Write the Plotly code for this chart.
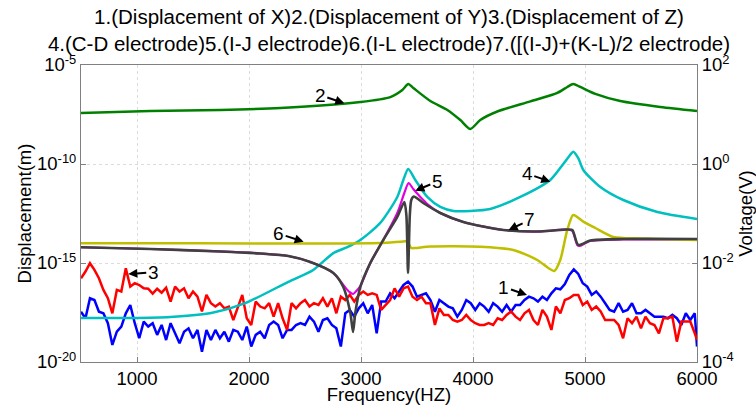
import numpy as np
import plotly.graph_objects as go

# ---------------- data ----------------
# Noisy displacement curves sampled every 40 Hz (log10 of displacement, m)
noise_freq = list(range(500, 6000, 40)) + [6000]

disp_x_log10 = [  # curve 1, blue
    -17.46, -17.79, -16.78, -16.87, -17.46, -17.54, -18.04, -19.14, -18.47, -18.21,
    -17.54, -17.12, -18.04, -18.80, -17.96, -18.21, -18.04, -18.63, -18.13, -18.89,
    -18.04, -18.55, -19.05, -18.47, -18.30, -18.80, -18.38, -19.48, -18.38, -18.89,
    -18.38, -18.80, -18.47, -18.97, -18.38, -18.47, -18.89, -18.21, -19.22, -18.63,
    -18.47, -18.80, -18.13, -17.96, -18.13, -18.80, -18.38,
    -18.38, -18.13, -18.04, -18.13, -17.71, -17.96, -18.47, -17.88, -17.79, -18.13,
    -18.30, -19.22, -17.54, -17.37, -17.71, -17.29, -17.03, -17.54, -17.12, -18.55,
    -16.95, -16.95, -16.53, -16.78, -16.44, -16.11, -15.94, -16.19, -16.70, -16.61,
    -16.53, -16.87, -17.46, -16.87, -17.03, -17.20, -17.29, -17.71, -17.37, -16.87,
    -17.03, -17.37, -17.03, -17.20, -17.46,
    -17.03, -17.20, -17.46, -17.12, -17.46, -17.12, -17.12, -16.87, -16.70, -16.78,
    -16.95, -16.70, -16.87, -16.53, -16.28, -16.33, -16.06, -15.60, -15.32, -15.55,
    -16.02, -16.19, -16.61, -16.44, -16.70, -17.03, -17.37, -17.46, -17.03, -17.46,
    -17.37, -17.03, -17.54, -17.54, -17.37, -17.54, -17.71, -17.71, -17.71, -17.79,
    -17.62, -17.79, -18.13, -17.54, -17.88, -17.54, -19.22,
]

disp_z_log10 = [  # curve 3, red
    -15.77, -15.43, -15.01, -15.35, -15.77, -16.36, -16.78, -17.54, -16.36, -16.44,
    -15.27, -16.19, -16.02, -16.11, -16.28, -16.30, -16.55, -16.30, -16.50, -16.25,
    -16.95, -16.19, -16.44, -16.28, -16.78, -16.44, -16.70, -17.45, -16.61, -17.03,
    -17.20, -17.03, -17.29, -17.20, -17.88, -17.29, -16.61, -17.79, -18.13, -16.95,
    -17.20, -17.29, -17.03, -17.71, -17.03, -17.79, -18.38,
    -17.03, -17.29, -17.03, -16.87, -17.20, -17.03, -17.12, -16.78, -17.20, -16.78,
    -17.54, -16.70, -16.87, -16.61, -16.95, -16.61, -16.44, -16.61, -16.53, -16.61,
    -17.37, -17.12, -16.87, -16.28, -16.70, -16.28, -16.19, -16.70, -16.87, -16.70,
    -17.03, -17.03, -18.13, -17.29, -17.62, -17.62, -17.88, -17.96, -17.88, -17.62,
    -17.88, -18.04, -18.13, -18.13, -18.04,
    -18.13, -17.79, -17.88, -17.62, -17.45, -17.71, -17.88, -17.54, -17.37, -17.88,
    -18.13, -17.37, -17.71, -18.38, -17.20, -17.54, -16.87, -16.78, -16.61, -16.61,
    -17.12, -16.95, -17.37, -17.20, -17.45, -17.88, -17.88, -17.88, -18.13, -18.80,
    -17.79, -18.04, -17.71, -18.30, -17.71, -18.04, -18.13, -18.55, -17.79, -17.79,
    -17.71, -18.97, -17.96, -17.96, -17.96, -18.55, -18.88,
]

# curve 2, green: displacement of Y (log10 m)
disp_y_freq = [500, 1119, 1744, 2280, 2994, 3262, 3369, 3422, 3467, 3619, 3771, 3887,
               3976, 4065, 4217, 4512, 4753, 4842, 4895, 4958, 5092, 5315, 5672, 6000]
disp_y_log10 = [-7.42, -7.32, -7.27, -7.17, -6.87, -6.62, -6.26, -5.96, -6.16, -6.82,
                -7.27, -7.78, -8.23, -7.78, -7.35, -6.84, -6.41, -6.11, -5.96, -6.11,
                -6.46, -6.82, -7.12, -7.32]

# curve 4, cyan: C-D electrode (log10 V)
cd_freq = [500, 940, 1297, 1663, 1967, 2351, 2574, 2753, 2878, 2994, 3172, 3324, 3378,
           3422, 3485, 3592, 3708, 3825, 3976, 4154, 4422, 4690, 4806, 4860, 4895, 4940,
           4985, 5137, 5342, 5646, 6000]
cd_log10 = [-3.11, -3.11, -3.09, -3.01, -2.81, -2.38, -2.14, -1.80, -1.68, -1.535, -1.19,
            -0.666, -0.323, -0.10, -0.323, -0.666, -0.868, -0.949, -0.949, -0.909, -0.666,
            -0.323, 0.0, 0.162, 0.25, 0.12, -0.121, -0.464, -0.727, -0.969, -1.11]

# curve 5, magenta: I-J electrode (log10 V)
ij_freq = [500, 1119, 1744, 2101, 2351, 2548, 2753, 2842, 2896, 2929, 2958, 2994, 3083,
           3199, 3324, 3387, 3425, 3467, 3530, 3592, 3708, 3914, 4271, 4601, 4842, 4887,
           4931, 4949, 5047, 5342, 6000]
ij_log10 = [-1.682, -1.717, -1.767, -1.808, -1.858, -1.979, -2.202, -2.444, -2.585, -2.626,
            -2.565, -2.464, -2.0, -1.535, -0.99, -0.586, -0.384, -0.505, -0.666, -0.808,
            -0.99, -1.171, -1.333, -1.363, -1.323, -1.353, -1.636, -1.656, -1.555, -1.525,
            -1.525]

# curve 6, olive: I-L electrode (log10 V)
il_freq = [500, 1565, 2458, 3172, 3378, 3414, 3449, 3485, 3619, 4065, 4360, 4574, 4672,
           4726, 4779, 4842, 4895, 4985, 5092, 5253, 5494, 6000]
il_log10 = [-1.602, -1.602, -1.606, -1.596, -1.565, -1.565, -1.697, -1.697, -1.666, -1.670,
            -1.737, -1.939, -2.10, -2.161, -1.939, -1.333, -1.03, -1.165, -1.293, -1.474,
            -1.505, -1.535]

# curve 7, dark grey: [(I-J)+(K-L)]/2 electrode (log10 V)
ijkl_freq = [500, 1119, 1744, 2101, 2351, 2548, 2753, 2842, 2905, 2929, 2949, 2994, 3083,
             3199, 3324, 3387, 3405, 3420, 3436, 3449, 3471, 3556, 3708, 3914, 4271, 4601,
             4842, 4887, 4940, 5047, 5342, 6000]
ijkl_log10 = [-1.682, -1.717, -1.767, -1.808, -1.858, -1.979, -2.202, -2.484, -3.01, -3.393,
              -3.01, -2.484, -2.0, -1.535, -1.07, -0.767, -1.03, -2.202, -1.03, -0.727,
              -0.656, -0.788, -0.99, -1.171, -1.333, -1.363, -1.323, -1.333, -1.636, -1.545,
              -1.515, -1.515]

# annotation labels
labels = ["1", "2", "3", "4", "5", "6", "7"]
label_freq = [4482, 2851, 922, 4690, 3485, 2488, 4318]
label_log10 = [-16.62, -6.93, -15.56, -0.357, -0.539, -1.569, -1.333]
label_axis = ["y", "y", "y", "y2", "y2", "y2", "y2"]
label_dx = [-23, -24, 25, -23, 22, -25, 21]
label_dy = [-8, -8, -2, -8, -9, -8, -10]

title_lines = ["1.(Displacement of X)2.(Displacement of Y)3.(Displacement of Z)",
               "4.(C-D electrode)5.(I-J electrode)6.(I-L electrode)7.([(I-J)+(K-L)/2 electrode)"]
x_ticks = [1000, 2000, 3000, 4000, 5000, 6000]
left_ticks = [1e-20, 1e-15, 1e-10, 1e-5]
left_ticktext = ["10<sup>-20</sup>", "10<sup>-15</sup>", "10<sup>-10</sup>", "10<sup>-5</sup>"]
right_ticks = [1e-4, 1e-2, 1, 100]
right_ticktext = ["10<sup>-4</sup>", "10<sup>-2</sup>", "10<sup>0</sup>", "10<sup>2</sup>"]

# ---------------- figure ----------------
FONT = "Liberation Sans, Arial, sans-serif"
fig = go.Figure()


def add(x, ylog, color, axis, width=2.5, shape="linear"):
    fig.add_trace(go.Scatter(x=x, y=10 ** np.array(ylog), mode="lines",
                             line=dict(color=color, width=width, shape=shape,
                                       smoothing=0.7),
                             yaxis=axis, showlegend=False, hoverinfo="skip"))


add(noise_freq, disp_x_log10, "#0000FF", "y")
add(disp_y_freq, disp_y_log10, "#008000", "y", shape="spline")
add(noise_freq, disp_z_log10, "#FF0000", "y")
add(cd_freq, cd_log10, "#00BFBF", "y2", shape="spline")
add(ij_freq, ij_log10, "#E000E0", "y2", width=2.2, shape="spline")
add(il_freq, il_log10, "#BFBF00", "y2", shape="spline")
add(ijkl_freq, ijkl_log10, "#404040", "y2", width=2.6, shape="spline")

for lab, fx, fy, ax_, dx, dy in zip(labels, label_freq, label_log10, label_axis, label_dx, label_dy):
    fig.add_annotation(x=fx, y=fy, xref="x", yref=ax_, text=lab, showarrow=True,
                       arrowhead=2, arrowsize=0.9, arrowwidth=2, arrowcolor="black",
                       ax=dx, ay=dy, font=dict(family=FONT, size=19, color="black"))

axis_common = dict(showline=True, linecolor="#808080", linewidth=1, automargin=False,
                   ticks="inside", ticklen=5, tickcolor="#808080",
                   tickfont=dict(family=FONT, size=18.5, color="black"),
                   title_font=dict(family=FONT, size=18.5, color="black"))

fig.update_layout(
    width=756, height=405,
    margin=dict(l=81, r=59, t=65, b=43, autoexpand=False),
    paper_bgcolor="white", plot_bgcolor="white",
    font=dict(family=FONT, color="black"),
    title=dict(text="<br>".join(title_lines), x=0.5, xref="paper", xanchor="center",
               y=0.941, yref="container", yanchor="top",
               font=dict(family=FONT, size=20.5, color="black")),
    xaxis=dict(range=[500, 6000], tickmode="array", tickvals=x_ticks,
               showgrid=True, gridcolor="#dcdcdc", griddash="dot", mirror=True,
               title=dict(text="Frequency(HZ)", standoff=0), **axis_common),
    yaxis=dict(type="log", range=[-20, -5], tickmode="array", tickvals=left_ticks,
               ticktext=left_ticktext, showgrid=True, gridcolor="#dcdcdc", griddash="dot",
               mirror=False, title=dict(text="Displacement(m)", standoff=0), **axis_common),
    yaxis2=dict(type="log", range=[-4, 2], tickmode="array", tickvals=right_ticks,
                ticktext=right_ticktext, overlaying="y", side="right", showgrid=False,
                mirror=False, title=dict(text="Voltage(V)", standoff=12), **axis_common),
)

fig.write_html("out.html")
